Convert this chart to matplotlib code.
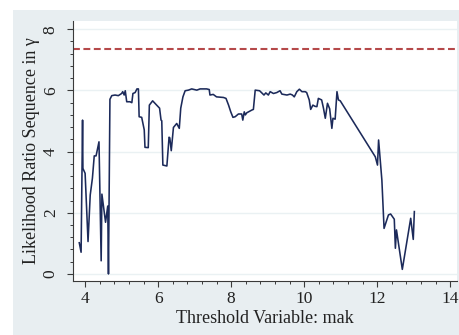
import matplotlib
matplotlib.use("Agg")
import matplotlib.pyplot as plt
from matplotlib.patches import Rectangle
from matplotlib.ticker import MultipleLocator

plt.rcParams["font.family"] = ["Liberation Serif", "DejaVu Serif"]

# likelihood ratio sequence over the threshold variable
threshold = [
    3.84, 3.89, 3.93, 3.94, 4.00, 4.08, 4.14, 4.20, 4.25, 4.30, 4.38, 4.44,
    4.46, 4.56, 4.62, 4.64, 4.68, 4.73, 4.82, 4.91, 5.00, 5.03, 5.07, 5.10,
    5.14, 5.23, 5.28, 5.31, 5.37, 5.42, 5.46, 5.48, 5.55, 5.62, 5.64, 5.73,
    5.76, 5.85, 5.96, 6.04, 6.08, 6.10, 6.13, 6.24, 6.30, 6.32, 6.36, 6.42,
    6.51, 6.58, 6.62, 6.68, 6.74, 6.83, 6.92, 7.06, 7.15, 7.33, 7.40, 7.42,
    7.51, 7.60, 7.79, 7.86, 7.93, 7.99, 8.05, 8.11, 8.20, 8.29, 8.32, 8.36,
    8.39, 8.43, 8.57, 8.61, 8.66, 8.78, 8.90, 8.95, 9.02, 9.07, 9.16, 9.25,
    9.34, 9.39, 9.53, 9.62, 9.68, 9.73, 9.80, 9.87, 9.94, 10.03, 10.07, 10.14,
    10.18, 10.24, 10.30, 10.35, 10.39, 10.48, 10.53, 10.58, 10.64, 10.70,
    10.76, 10.79, 10.85, 10.90, 10.94, 10.99, 11.95, 12.01, 12.04, 12.13,
    12.19, 12.31, 12.37, 12.47, 12.50, 12.53, 12.69, 12.92, 12.99, 13.02,
]
lr_stat = [
    1.02, 0.71, 5.03, 3.45, 3.29, 1.06, 2.58, 3.13, 3.86, 3.86, 4.32, 0.43,
    2.61, 1.69, 2.22, 0.00, 5.71, 5.83, 5.85, 5.83, 5.90, 5.96, 5.85, 5.99,
    5.63, 5.63, 5.60, 5.90, 5.93, 6.05, 6.05, 5.14, 5.12, 4.71, 4.14, 4.13,
    5.52, 5.66, 5.52, 5.42, 5.03, 5.01, 3.56, 3.53, 4.47, 4.45, 4.03, 4.79,
    4.92, 4.76, 5.42, 5.79, 5.99, 6.01, 6.05, 6.01, 6.05, 6.05, 6.03, 5.85,
    5.87, 5.79, 5.77, 5.74, 5.52, 5.30, 5.12, 5.14, 5.23, 5.23, 5.03, 5.30,
    5.20, 5.27, 5.36, 5.38, 6.01, 5.99, 5.85, 5.92, 5.85, 5.96, 5.90, 5.93,
    5.99, 5.88, 5.85, 5.88, 5.85, 5.79, 5.96, 6.04, 5.96, 5.96, 5.93, 5.69,
    5.38, 5.52, 5.48, 5.47, 5.74, 5.69, 5.42, 5.09, 5.58, 5.40,
    4.76, 5.09, 5.06, 5.96, 5.69, 5.66, 3.83, 3.56, 4.38, 3.07,
    1.49, 1.93, 1.96, 1.79, 0.84, 1.44, 0.15, 1.82, 1.13, 2.04,
]
critical_value = 7.35

x_ticks = [4, 6, 8, 10, 12, 14]
y_ticks = [0, 2, 4, 6, 8]

BG = "#e8eef1"
GRID = "#eaf1f3"
LINE = "#1c2a5a"
DASH = "#b5494a"
AXIS = "#3a3a3a"

fig = plt.figure(figsize=(4.59, 3.35), dpi=100)
fig.patch.set_facecolor("white")
fig.add_artist(Rectangle((13 / 459, 0), 1, 1 - 10 / 335, transform=fig.transFigure,
                         facecolor=BG, edgecolor="none", zorder=0))

ax = fig.add_axes([72.7 / 459, 1 - 281.3 / 335, 384 / 459, 260.6 / 335])
ax.set_facecolor("white")

for yt in y_ticks:
    ax.axhline(yt, color=GRID, lw=1.0, zorder=1)

ax.axhline(critical_value, color=DASH, lw=1.5, ls=(0, (3.3, 1.7)), zorder=2)
ax.plot(threshold, lr_stat, color=LINE, lw=1.15, zorder=3)

ax.set_xlim(3.66, 14.18)
ax.set_ylim(-0.24, 8.28)
ax.set_xticks(x_ticks)
ax.set_yticks(y_ticks)
ax.xaxis.set_minor_locator(MultipleLocator(0.4))
ax.yaxis.set_minor_locator(MultipleLocator(0.4))

for side in ("top", "right"):
    ax.spines[side].set_visible(False)
for side in ("left", "bottom"):
    ax.spines[side].set_color(AXIS)
    ax.spines[side].set_linewidth(0.8)

ax.tick_params(which="major", length=4, width=0.8, color=AXIS, labelsize=12.5,
               labelcolor="#222222")
ax.tick_params(axis="y", which="major", pad=6)
ax.tick_params(axis="x", which="major", pad=3)
ax.tick_params(which="minor", length=2.5, width=0.7, color=AXIS)
for lab in ax.get_yticklabels():
    lab.set_rotation(90)
    lab.set_va("center")

ax.set_xlabel("Threshold Variable: mak", fontsize=13, color="#222222", labelpad=2)
ax.set_ylabel("Likelihood Ratio Sequence in γ", fontsize=13, color="#222222", labelpad=2)

fig.savefig("out.png", dpi=100, facecolor=fig.get_facecolor())
